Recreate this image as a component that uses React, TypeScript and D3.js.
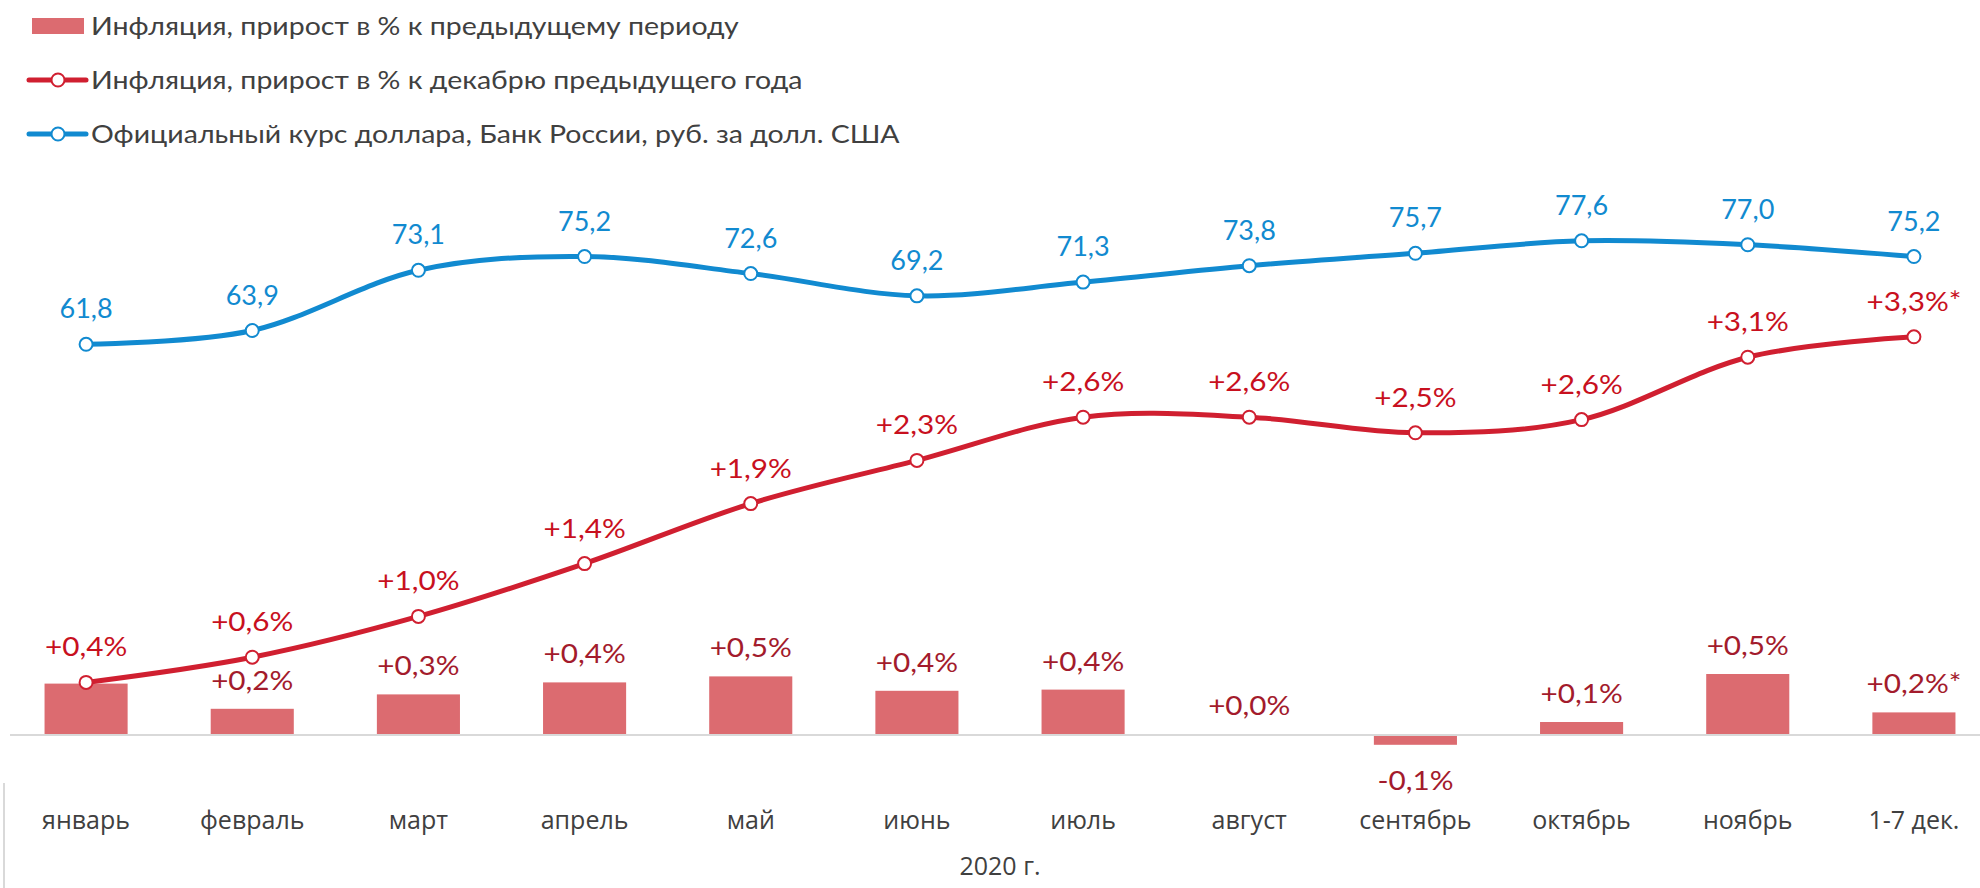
import React from 'react';
import * as d3 from 'd3';

const categories = ['январь', 'февраль', 'март', 'апрель', 'май', 'июнь', 'июль', 'август', 'сентябрь', 'октябрь', 'ноябрь', '1-7 дек.'];
const monthlyInflation = [0.42, 0.21, 0.33, 0.43, 0.48, 0.36, 0.37, 0.0, -0.09, 0.1, 0.5, 0.18];
// January's monthly value coincides with the cumulative one; the chart shows it once
const monthlyLabels = ['', '+0,2%', '+0,3%', '+0,4%', '+0,5%', '+0,4%', '+0,4%', '+0,0%', '-0,1%', '+0,1%', '+0,5%', '+0,2%*'];
const ytdInflation = [0.43, 0.64, 0.98, 1.42, 1.92, 2.28, 2.64, 2.64, 2.51, 2.62, 3.14, 3.31];
const ytdLabels = ['+0,4%', '+0,6%', '+1,0%', '+1,4%', '+1,9%', '+2,3%', '+2,6%', '+2,6%', '+2,5%', '+2,6%', '+3,1%', '+3,3%*'];
const usdRub = [61.8, 63.9, 73.1, 75.2, 72.6, 69.2, 71.3, 73.8, 75.7, 77.6, 77.0, 75.2];
const usdLabels = ['61,8', '63,9', '73,1', '75,2', '72,6', '69,2', '71,3', '73,8', '75,7', '77,6', '77,0', '75,2'];
const legendLabels = [
  'Инфляция, прирост в % к предыдущему периоду',
  'Инфляция, прирост в % к декабрю предыдущего года',
  'Официальный курс доллара, Банк России, руб. за долл. США',
];
const xAxisTitle = '2020 г.';

const W = 1980;
const H = 888;
const BAR = '#DC6B70';
const RED = '#D01F30';
const RED_LABEL = '#C8101E';
const BAR_LABEL = '#A31B2C';
const BLUE = '#118AD0';
const TEXT = '#404040';
const GRID = '#D9D9D9';
const LABEL_FONT = 'Lato, "Noto Sans", sans-serif';
const AXIS_FONT = '"Open Sans", "Noto Sans", sans-serif';

function WideText(props: { x: number; y: number; sx: number; anchor?: string; size: number; fill: string; font: string; children: string }) {
  const { x, y, sx, anchor = 'middle', size, fill, font, children } = props;
  return (
    <text transform={`translate(${x},${y}) scale(${sx},1)`} textAnchor={anchor}
      fontFamily={font} fontSize={size} fill={fill}>{children}</text>
  );
}

export default function App() {
  const x = d3.scaleBand<string>().domain(categories).range([3, 1997]).paddingInner(0.5).paddingOuter(0.25);
  const yPct = d3.scaleLinear().domain([-0.5, 3.5]).range([794, 314]);
  const yUsd = d3.scaleLinear().domain([60, 80]).range([356.1, 225.1]);
  const cx = (c: string) => (x(c) as number) + x.bandwidth() / 2;

  const curve = d3.curveCardinal.tension(0);
  const redLine = d3.line<number>().x((_, i) => cx(categories[i])).y((d) => yPct(d)).curve(curve);
  const blueLine = d3.line<number>().x((_, i) => cx(categories[i])).y((d) => yUsd(d)).curve(curve);
  const y0 = yPct(0);

  return (
    <svg width={W} height={H} style={{ display: 'block', position: 'absolute', left: 0, top: 0, background: '#fff' }}>
      {/* Legend */}
      <g>
        <rect x={32} y={18} width={52} height={16} fill={BAR} />
        <line x1={29} x2={86} y1={80} y2={80} stroke={RED} strokeWidth={5} strokeLinecap="round" />
        <circle cx={58} cy={80} r={6.5} fill="#fff" stroke={RED} strokeWidth={2} />
        <line x1={29} x2={86} y1={134} y2={134} stroke={BLUE} strokeWidth={5} strokeLinecap="round" />
        <circle cx={58} cy={134} r={6.5} fill="#fff" stroke={BLUE} strokeWidth={2} />
        {legendLabels.map((t, i) => (
          <WideText key={t} x={91} y={[35, 89, 143][i]} sx={1.14} anchor="start" size={25} fill={TEXT} font={LABEL_FONT}>{t}</WideText>
        ))}
      </g>

      {/* Bars */}
      {monthlyInflation.map((v, i) => (
        <rect key={'b' + i} x={x(categories[i]) as number} width={x.bandwidth()}
          y={Math.min(yPct(v), y0)} height={Math.abs(yPct(v) - y0)} fill={BAR} />
      ))}

      {/* Baseline */}
      <line x1={10} x2={W} y1={y0 + 1} y2={y0 + 1} stroke={GRID} strokeWidth={2} />
      <line x1={4} x2={4} y1={783} y2={H} stroke={GRID} strokeWidth={2} />

      {/* Lines */}
      <path d={redLine(ytdInflation) || ''} fill="none" stroke={RED} strokeWidth={5} />
      <path d={blueLine(usdRub) || ''} fill="none" stroke={BLUE} strokeWidth={5} />
      {ytdInflation.map((v, i) => (
        <circle key={'r' + i} cx={cx(categories[i])} cy={yPct(v)} r={6.5} fill="#fff" stroke={RED} strokeWidth={2} />
      ))}
      {usdRub.map((v, i) => (
        <circle key={'u' + i} cx={cx(categories[i])} cy={yUsd(v)} r={6.5} fill="#fff" stroke={BLUE} strokeWidth={2} />
      ))}

      {/* Data labels */}
      {monthlyInflation.map((v, i) => (
        <WideText key={'bl' + i} x={cx(categories[i])} y={v >= 0 ? yPct(v) - 19 : yPct(v) + 45}
          sx={1.1} size={27} fill={BAR_LABEL} font={LABEL_FONT}>{monthlyLabels[i]}</WideText>
      ))}
      {ytdInflation.map((v, i) => (
        <WideText key={'rl' + i} x={cx(categories[i])} y={yPct(v) - 26}
          sx={1.1} size={27} fill={RED_LABEL} font={LABEL_FONT}>{ytdLabels[i]}</WideText>
      ))}
      {usdRub.map((v, i) => (
        <WideText key={'ul' + i} x={cx(categories[i])} y={yUsd(v) - 26}
          sx={1.0} size={27} fill={BLUE} font={LABEL_FONT}>{usdLabels[i]}</WideText>
      ))}

      {/* X axis labels */}
      {categories.map((c) => (
        <text key={c} x={cx(c)} y={829} textAnchor="middle" fontFamily={AXIS_FONT} fontSize={25} fill={TEXT}>{c}</text>
      ))}
      <text x={1000} y={875} textAnchor="middle" fontFamily={AXIS_FONT} fontSize={25} fill={TEXT}>{xAxisTitle}</text>
    </svg>
  );
}
